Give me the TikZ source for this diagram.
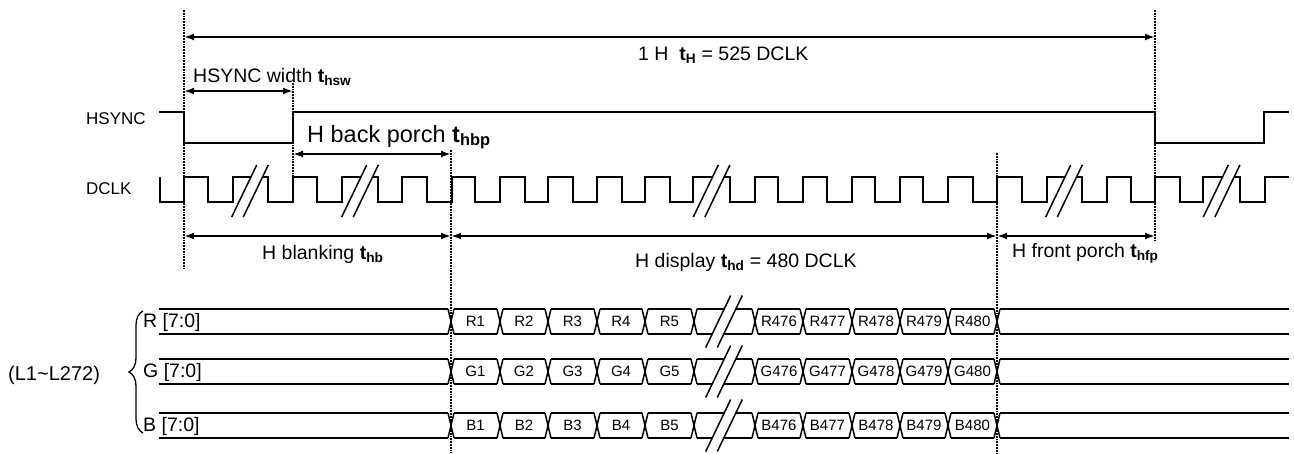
\documentclass[tikz,border=0pt]{standalone}
\usepackage{fontspec}
\setmainfont{Liberation Sans}
\usepackage{tikz}
\usetikzlibrary{arrows.meta,decorations.pathreplacing}
\newcommand{\tsub}[1]{\textbf{t}\textsubscript{\textbf{#1}}}
% pair of break slashes centred at (#1,#2)
\newcommand{\brkmark}[2]{%
  \fill[white] ({#1-18.3},{#2+26}) -- ({#1+6.7},{#2-26}) -- ({#1+18.3},{#2-26}) -- ({#1-6.7},{#2+26}) -- cycle;
  \draw[brk] ({#1-18.3},{#2+26}) -- ({#1+6.7},{#2-26}) ({#1-6.7},{#2+26}) -- ({#1+18.3},{#2-26});}

\begin{document}
\begin{tikzpicture}[x=1pt, y=-1pt, >={Latex[length=10pt,width=7pt]},
  lbl/.style={font=\fontsize{19.5}{22}\selectfont, inner sep=0pt},
  cell/.style={font=\fontsize{15}{17}\selectfont, inner sep=0pt},
  guide/.style={densely dotted, line width=1.8pt},
  dim/.style={<->, line width=2.6pt},
  sig/.style={line width=1.3pt},
  clk/.style={line width=2pt},
  bus/.style={line width=1.5pt},
  brk/.style={line width=1.5pt}]
\useasboundingbox (0,0) rectangle (1294,453);

% timing guides
\coordinate (g0) at (184,10);   \coordinate (g0b) at (184,268);
\coordinate (g1) at (293,83);   \coordinate (g1b) at (293,202);
\coordinate (g2) at (451,150);  \coordinate (g2b) at (451,453);
\coordinate (g3) at (997,153);  \coordinate (g3b) at (997,453);
\coordinate (g4) at (1155,10);  \coordinate (g4b) at (1155,242);
\foreach \g in {g0,g1,g2,g3,g4}
  \draw[guide] (\g) -- (\g b);

% arrow rows
\coordinate (yH) at (0,37);
\coordinate (yhsw) at (0,91);
\coordinate (yhbp) at (0,154);
\coordinate (yhb) at (0,236);

% signal names
\node[lbl, font=\fontsize{17}{20}\selectfont, anchor=base west] (hsyncL) at (86,124) {HSYNC};
\node[lbl, font=\fontsize{17}{20}\selectfont, anchor=base west] (dclkL) at (86,194) {DCLK};
\node[lbl, font=\fontsize{20}{22}\selectfont, anchor=base west] (lines) at (8,380) {(L1\textasciitilde L272)};
\draw[sig, decorate, decoration={brace, amplitude=14pt}] (143,433) -- (143,311);

% HSYNC
\draw[sig] (159,112) -- (184,112) -- (184,143) -- (293,143) -- (293,112)
  -- (1155,112) -- (1155,143) -- (1264,143) -- (1264,112) -- (1289,112);

% DCLK
\draw[clk] (160,177) -- (160,202)
  \foreach \r/\f in {184/208, 233/268, 293/317, 342/378, 402/427, 452/475,
    500/525, 548/573, 597/622, 645/670, 693/730, 755/778, 803/827, 852/875,
    900/923, 948/973, 997/1022, 1047/1082, 1107/1131, 1155/1180, 1203/1240}
  { -- (\r,202) -- (\r,177) -- (\f,177) -- (\f,202) }
  -- (1265,202) -- (1265,177) -- (1289,177);
\foreach \x in {250,360,711.6,1064,1221.6}
  \brkmark{\x}{191};

% RGB data
\foreach \c/\s in {321.5/R, 371.5/G, 425.5/B}{
  \draw[bus] (159,\c-12.5) -- (448,\c-12.5) (159,\c+12.5) -- (448,\c+12.5);
  \draw[bus] (1000,\c-12.5) -- (1289,\c-12.5) (1000,\c+12.5) -- (1289,\c+12.5);
  \foreach \b in {451,500,548,597,645,694,755,803,852,900,948,997}
    \draw[bus] (\b-3,\c-12.5) -- (\b+3,\c+12.5) (\b-3,\c+12.5) -- (\b+3,\c-12.5);
  \foreach \a/\b in {451/500,500/548,548/597,597/645,645/694,694/755,
    755/803,803/852,852/900,900/948,948/997}
    \draw[bus] (\a+3,\c-12.5) -- (\b-3,\c-12.5) (\a+3,\c+12.5) -- (\b-3,\c+12.5);
  \foreach \n/\x in {1/475.5,2/524,3/572.5,4/621,5/669.5,
    476/779,477/827.5,478/876,479/924,480/972.5}
    \node[cell] (\s\n) at (\x,\c) {\s\n};
  \brkmark{724}{\c}
  \node[lbl, anchor=base west] (bus\s) at (143,\c+5.5) {\s\ [7:0]};
}

% dimensions
\draw[dim] (g0 |- yH) -- (g4 |- yH);
\draw[dim] (g0 |- yhsw) -- (g1 |- yhsw);
\draw[dim] (g1 |- yhbp) -- (g2 |- yhbp);
\draw[dim] (g0 |- yhb) -- (g2 |- yhb);
\draw[dim] (g2 |- yhb) -- (g3 |- yhb);
\draw[dim] (g3 |- yhb) -- (g4 |- yhb);
\node[lbl, anchor=base west] (tH) at (638,60) {1 H\ \ \tsub{H} = 525 DCLK};
\node[lbl, anchor=base west] (thsw) at (193,82) {HSYNC width \tsub{hsw}};
\node[lbl, font=\fontsize{23.5}{26}\selectfont, anchor=base west] (thbp) at (307,142) {H back porch \tsub{hbp}};
\node[lbl, anchor=base west] (thb) at (262,259) {H blanking \tsub{hb}};
\node[lbl, anchor=base west] (thd) at (635,267) {H display \tsub{hd} = 480 DCLK};
\node[lbl, anchor=base west] (thfp) at (1012,257) {H front porch \tsub{hfp}};
\end{tikzpicture}
\end{document}
